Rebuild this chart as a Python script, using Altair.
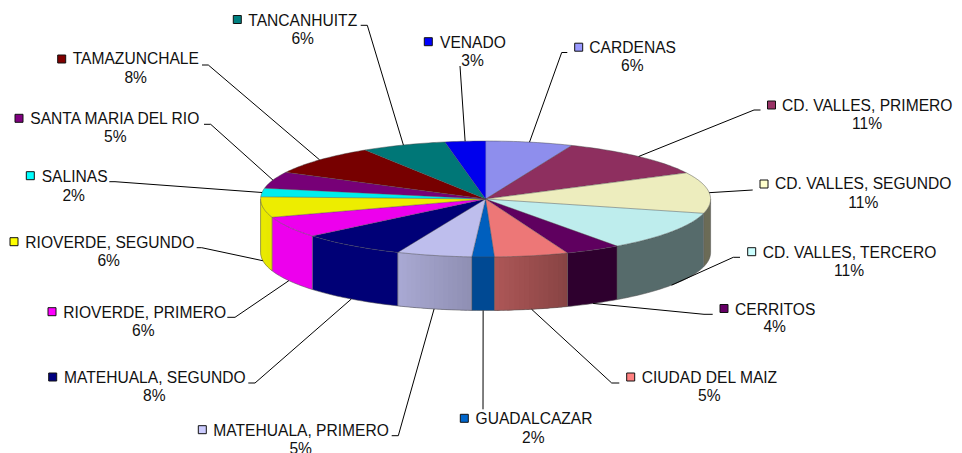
import math
import altair as alt
import pandas as pd

# ---- data
names = ["CARDENAS", "CD. VALLES, PRIMERO", "CD. VALLES, SEGUNDO", "CD. VALLES, TERCERO",
         "CERRITOS", "CIUDAD DEL MAIZ", "GUADALCAZAR", "MATEHUALA, PRIMERO",
         "MATEHUALA, SEGUNDO", "RIOVERDE, PRIMERO", "RIOVERDE, SEGUNDO", "SALINAS",
         "SANTA MARIA DEL RIO", "TAMAZUNCHALE", "TANCANHUITZ", "VENADO"]
values = [6.25, 11.3, 11.4, 11.1, 4.0, 5.3, 1.6, 5.4, 7.6, 5.9, 5.7, 2.4, 4.6, 8.4, 6.1, 2.9]

# ---- styles
key_colors = ["#9999FF", "#993366", "#FFFFCC", "#CCFFFF", "#660066", "#FF8080", "#0066CC", "#CCCCFF",
              "#000080", "#FF00FF", "#FFFF00", "#00FFFF", "#800080", "#800000", "#008080", "#0000FF"]
top_shade = 0.93
wall_shade = [(1, 1), (1, 1), (.42, .42), (.42, .42), (.45, .45), (.53, .68), (.72, .72), (.70, .83),
              (.92, .92), (.93, .93), (.90, .93), (1, 1), (1, 1), (1, 1), (1, 1), (1, 1)]

# ---- layout in page pixels
CX, CY, RX, RY, DEPTH = 485.6, 199.0, 225.0, 58.0, 53.5
FONT = 15.6
# key x, key y, name left, name y, percent x, percent y
label_pos = [
    (578.7, 47.2, 589.3, 47.7, 632.3, 66.0),
    (771.5, 105.0, 782.0, 105.7, 867.0, 124.0),
    (764.0, 184.0, 775.0, 184.3, 863.3, 202.7),
    (751.7, 251.7, 762.7, 252.7, 849.0, 271.0),
    (724.0, 308.5, 735.0, 309.7, 774.7, 326.7),
    (630.7, 377.0, 641.7, 377.7, 709.3, 396.0),
    (464.3, 418.3, 475.5, 419.3, 533.3, 437.7),
    (202.3, 429.7, 213.3, 430.7, 300.7, 448.7),
    (52.7, 377.0, 64.0, 377.7, 154.3, 396.0),
    (52.0, 311.7, 63.3, 312.7, 143.3, 331.0),
    (14.0, 241.7, 25.3, 242.7, 108.7, 261.0),
    (30.3, 175.7, 41.7, 176.7, 73.7, 195.7),
    (19.0, 118.3, 30.3, 119.3, 115.3, 136.7),
    (61.7, 59.0, 72.7, 59.3, 135.7, 78.3),
    (237.3, 19.5, 248.3, 20.7, 302.7, 39.3),
    (428.3, 41.7, 440.0, 42.7, 472.5, 61.0),
]
# leader elbow and end
leader_pos = [
    ((561.7, 52.5), (567.3, 52.5)), ((754.0, 110.0), (760.5, 110.0)), ((752.7, 190.0), (752.7, 190.0)),
    ((733.3, 257.3), (740.0, 257.3)), ((704.0, 314.3), (712.7, 314.3)), ((611.7, 383.0), (619.3, 383.0)),
    ((483.0, 409.3), (483.0, 409.3)), ((398.3, 435.7), (391.7, 435.7)), ((255.0, 383.0), (248.3, 383.0)),
    ((235.0, 317.3), (227.3, 317.3)), ((201.7, 247.7), (196.7, 247.7)), ((115.0, 181.7), (109.3, 181.7)),
    ((210.7, 124.3), (204.0, 124.3)), ((208.3, 65.0), (202.0, 65.0)), ((367.3, 25.3), (360.7, 25.3)),
    ((460.0, 66.0), (460.0, 66.0)),
]


def shade(hex_color, k):
    r, g, b = (int(hex_color[i:i + 2], 16) for i in (1, 3, 5))
    return "#%02x%02x%02x" % (round(r * k), round(g * k), round(b * k))


def rim(t, drop=0.0):
    a = math.radians(t)
    return CX + RX * math.sin(a), CY - RY * math.cos(a) + drop


def band(u0, u1, steps=4):
    """Outline of the wall between two angles, following the curved rims."""
    ts = [u0 + (u1 - u0) * j / steps for j in range(steps + 1)]
    return [rim(t) for t in ts] + [rim(t, DEPTH) for t in reversed(ts)]


total = sum(values)
edges = [0.0]
for v in values:
    edges.append(edges[-1] + v / total * 360)

tops, bases, walls, rim_lines, leaders, keys, texts = [], [], [], [], [], [], []
for i, name in enumerate(names):
    t0, t1 = edges[i], edges[i + 1]
    color = key_colors[i]
    # upper face
    n = max(3, int((t1 - t0) / 1.0))
    pts = [(CX, CY)] + [rim(t0 + (t1 - t0) * j / n) for j in range(n + 1)]
    for o, (x, y) in enumerate(pts):
        tops.append(dict(g=name, o=o, x=x, y=y, c=shade(color, top_shade)))
    # front wall: a solid base, with gradient strips over it where the shade changes
    a, b = max(t0, 90.0), min(t1, 270.0)
    if b > a:
        k0, k1 = wall_shade[i]
        steps = max(4, int((b - a) / 1.0))
        for o, (x, y) in enumerate(band(a, b, steps)):
            bases.append(dict(g=f"{i}", o=o, x=x, y=y, c=shade(color, (k0 + k1) / 2)))
        if k0 != k1:
            m = max(1, int((b - a) / 1.2))
            for s in range(m):
                u0, u1 = a + (b - a) * s / m, a + (b - a) * (s + 1) / m
                k = k0 + (k1 - k0) * (s + 0.5) / m
                for o, (x, y) in enumerate(band(u0, min(u1 + 0.6, b), 2)):
                    walls.append(dict(g=f"{i}-{s}", o=o, x=x, y=y, c=shade(color, k)))
        for s in range(steps + 1):
            x, y = rim(a + (b - a) * s / steps, DEPTH)
            rim_lines.append(dict(g=f"b{i}", o=s, x=x, y=y))
        for o, (x, y) in enumerate([rim(a), rim(a, DEPTH)]):
            rim_lines.append(dict(g=f"v{i}", o=o, x=x, y=y))
        if b == 270.0:
            for o, (x, y) in enumerate([rim(b), rim(b, DEPTH)]):
                rim_lines.append(dict(g=f"w{i}", o=o, x=x, y=y))
    # leader
    mid = (t0 + t1) / 2
    start = rim(mid, DEPTH if 90 < mid < 270 else 0.0)
    for o, (x, y) in enumerate([start, leader_pos[i][0], leader_pos[i][1]]):
        leaders.append(dict(g=name, o=o, x=x, y=y))
    kx, ky, nx, ny, px, py = label_pos[i]
    keys.append(dict(x=kx, y=ky, c=color))
    texts.append(dict(x=nx, y=ny, t=name, a="left"))
    texts.append(dict(x=px, y=py, t=f"{round(values[i])}%", a="center"))

W, H = 946, 445
X = alt.X("x:Q", axis=None, scale=alt.Scale(domain=[8, 8 + W], range=[0, W], nice=False, zero=False))
Y = alt.Y("y:Q", axis=None, scale=alt.Scale(domain=[8, 8 + H], range=[0, H], nice=False, zero=False))

base_layer = alt.Chart(pd.DataFrame(bases)).mark_line(filled=True, strokeWidth=0).encode(
    X, Y, detail="g:N", order="o:Q", fill=alt.Fill("c:N", scale=None))
wall_layer = alt.Chart(pd.DataFrame(walls)).mark_line(filled=True, strokeWidth=0).encode(
    X, Y, detail="g:N", order="o:Q", fill=alt.Fill("c:N", scale=None))
rim_layer = alt.Chart(pd.DataFrame(rim_lines)).mark_line(
    stroke="#555555", strokeWidth=0.7, opacity=0.8).encode(X, Y, detail="g:N", order="o:Q")
top_layer = alt.Chart(pd.DataFrame(tops)).mark_line(
    filled=True, stroke="#444444", strokeWidth=0.6, strokeOpacity=0.75).encode(
    X, Y, detail="g:N", order="o:Q", fill=alt.Fill("c:N", scale=None))
leader_layer = alt.Chart(pd.DataFrame(leaders)).mark_line(
    stroke="#000000", strokeWidth=1).encode(X, Y, detail="g:N", order="o:Q")
key_layer = alt.Chart(pd.DataFrame(keys)).mark_square(
    size=64, opacity=1, stroke="#111111", strokeWidth=1).encode(
    X, Y, fill=alt.Fill("c:N", scale=None))
left_text = alt.Chart(pd.DataFrame([t for t in texts if t["a"] == "left"])).mark_text(
    align="left", baseline="middle", font="Liberation Sans", fontSize=FONT, color="#111111").encode(X, Y, text="t:N")
pct_text = alt.Chart(pd.DataFrame([t for t in texts if t["a"] == "center"])).mark_text(
    align="center", baseline="middle", font="Liberation Sans", fontSize=FONT, color="#111111").encode(X, Y, text="t:N")

chart = alt.layer(base_layer, wall_layer, rim_layer, top_layer, leader_layer, key_layer, left_text, pct_text).properties(
    width=W, height=H, padding=0, autosize=alt.AutoSizeParams(type="none")
).configure_view(stroke=None)
chart.save("out.html", embed_options={"renderer": "svg", "actions": False})
